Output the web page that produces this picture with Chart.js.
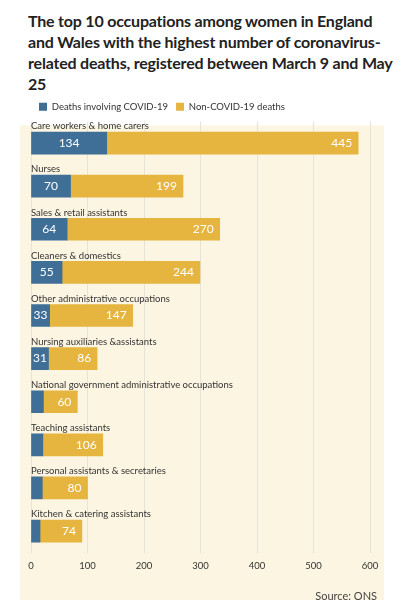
<!DOCTYPE html>
<html>
<head>
<script src="https://cdn.jsdelivr.net/npm/chart.js@4"></script>
<style>
body{margin:0;background:#fff;font-family:"Lato",sans-serif;}
h1{font-size:16px;line-height:21px;margin:0;padding:10px 8px 0 28px;color:#222;font-weight:bold;letter-spacing:-0.2px;}
#wrap{position:relative;width:404px;height:512px;}
</style>
</head>
<body>
<h1>The top 10 occupations among women in England and Wales with the highest number of coronavirus-related deaths, registered between March 9 and May 25</h1>
<div id="wrap"><canvas id="c"></canvas></div>
<script>
var occupations = ["Care workers & home carers","Nurses","Sales & retail assistants","Cleaners & domestics","Other administrative occupations","Nursing auxiliaries &assistants","National government administrative occupations","Teaching assistants","Personal assistants & secretaries","Kitchen & catering assistants"];
var covidDeaths = [134,70,64,55,33,31,22,21,20,16];
var nonCovidDeaths = [445,199,270,244,147,86,60,106,80,74];
var xTicks = [0,100,200,300,400,500,600];

var panel = {
  id:'panel',
  beforeDraw:function(ch){
    var c=ch.ctx;c.save();c.fillStyle='#fcf5e1';
    c.fillRect(20,ch.legend.bottom+4,364,ch.height-ch.legend.bottom-4);
    c.restore();
  },
  afterDatasetsDraw:function(ch){
    var c=ch.ctx;c.save();
    var m0=ch.getDatasetMeta(0).data, m1=ch.getDatasetMeta(1).data;
    c.font='9.5px Lato';c.fillStyle='#333';c.textBaseline='bottom';c.textAlign='left';
    occupations.forEach(function(o,i){
      var b=m0[i];c.fillText(o,ch.scales.x.getPixelForValue(0),b.y-b.height/2-1);
    });
    c.font='12px Lato';c.fillStyle='#fff';c.textBaseline='middle';
    covidDeaths.forEach(function(v,i){
      if(v<30)return;var b=m0[i];c.textAlign='center';c.fillText(v,(b.x+b.base)/2,b.y);
    });
    nonCovidDeaths.forEach(function(v,i){
      var b=m1[i];c.textAlign='right';c.fillText(v,b.x-6,b.y);
    });
    c.font='11px Lato';c.fillStyle='#444';c.textAlign='right';c.textBaseline='alphabetic';
    c.fillText('Source: ONS',377,ch.height-6);
    c.restore();
  }
};

new Chart(document.getElementById('c'),{
  type:'bar',
  data:{labels:occupations,datasets:[
    {label:'Deaths involving COVID-19',data:covidDeaths,backgroundColor:'#3f6e96',barThickness:22},
    {label:'Non-COVID-19 deaths',data:nonCovidDeaths,backgroundColor:'#e6b540',barThickness:22}
  ]},
  options:{
    indexAxis:'y',responsive:true,maintainAspectRatio:false,animation:false,
    layout:{padding:{left:31,right:34,top:0,bottom:26}},
    plugins:{
      legend:{position:'top',align:'start',labels:{boxWidth:8,boxHeight:8,font:{family:'Lato',size:9.5},color:'#333',padding:8}},
      tooltip:{enabled:false}
    },
    scales:{
      x:{stacked:true,min:0,max:600,afterBuildTicks:function(a){a.ticks=xTicks.map(function(v){return{value:v};});},
        grid:{color:'#e6e3da',drawTicks:false},border:{display:false},
        ticks:{font:{family:'Lato',size:9.5},color:'#333',padding:8}},
      y:{stacked:true,ticks:{display:false},grid:{display:false},border:{display:false},
        afterFit:function(s){s.width=0;}}
    }
  },
  plugins:[panel]
});
</script>
</body>
</html>
